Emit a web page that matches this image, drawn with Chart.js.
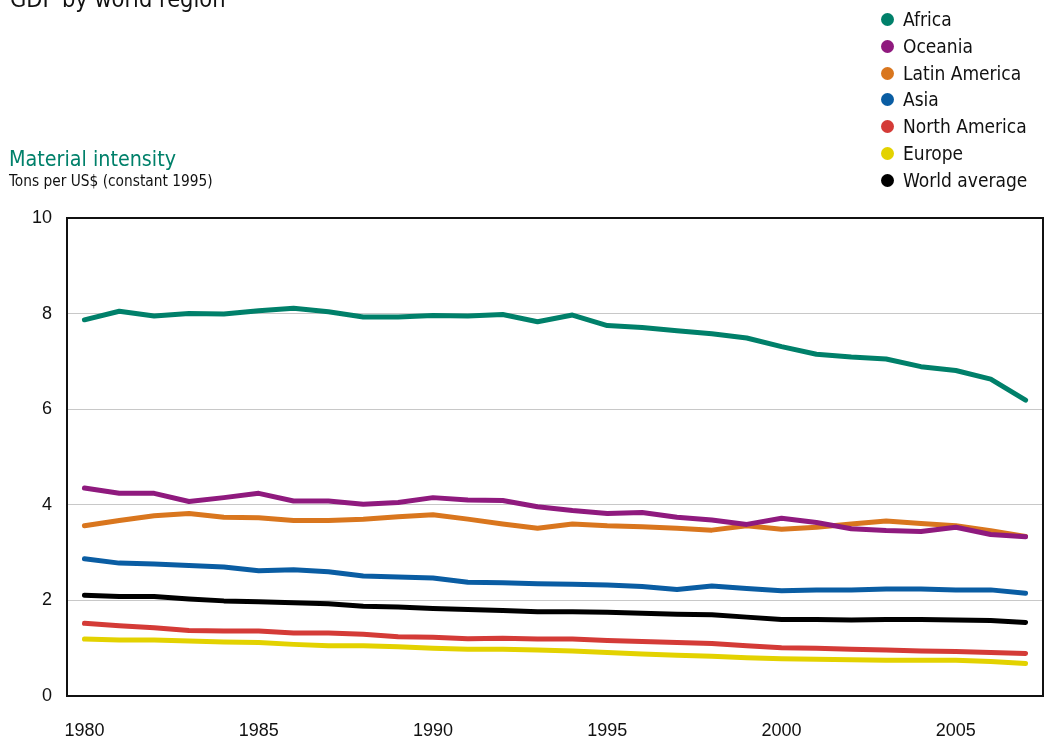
<!DOCTYPE html>
<html><head><meta charset="utf-8">
<script src="https://cdn.jsdelivr.net/npm/chart.js@4.4.1/dist/chart.umd.min.js"></script>
<style>
html,body{margin:0;padding:0;background:#fff;}
body{width:1045px;height:740px;position:relative;overflow:hidden;font-family:"DejaVu Sans Condensed","DejaVu Sans",sans-serif;font-stretch:condensed;color:#111;}
#c{position:absolute;left:0;top:0;}
.t{position:absolute;white-space:nowrap;line-height:1;}
#legend{position:absolute;left:881px;top:0;}
.row{position:absolute;left:0;height:20px;line-height:20px;font-size:19px;white-space:nowrap;display:flex;align-items:center;}
.dot{width:13px;height:13px;border-radius:50%;margin-right:9px;flex:none;}
</style></head><body>
<canvas id="c" width="1045" height="740"></canvas>
<div class="t" style="left:10px;top:-12.5px;font-size:23.4px;">GDP by world region</div>
<div class="t" style="left:9px;top:148px;font-size:21.3px;color:#00806a;">Material intensity</div>
<div class="t" style="left:9px;top:174px;font-size:15.3px;">Tons per US$ (constant 1995)</div>
<div id="legend"></div>
<script>
const years = [1980,1981,1982,1983,1984,1985,1986,1987,1988,1989,1990,1991,1992,1993,1994,1995,1996,1997,1998,1999,2000,2001,2002,2003,2004,2005,2006,2007];
const africa = [7.87,8.05,7.95,8.00,7.99,8.06,8.11,8.04,7.93,7.93,7.96,7.95,7.98,7.83,7.97,7.75,7.71,7.64,7.58,7.49,7.31,7.15,7.09,7.05,6.89,6.81,6.63,6.19];
const oceania = [4.35,4.24,4.24,4.07,4.15,4.24,4.08,4.08,4.01,4.05,4.15,4.10,4.09,3.96,3.88,3.82,3.84,3.74,3.68,3.59,3.72,3.63,3.50,3.46,3.44,3.53,3.38,3.33];
const latinAmerica = [3.56,3.67,3.77,3.82,3.74,3.73,3.67,3.67,3.70,3.75,3.79,3.70,3.60,3.51,3.60,3.56,3.54,3.51,3.47,3.56,3.49,3.53,3.60,3.66,3.61,3.56,3.46,3.34];
const asia = [2.87,2.78,2.76,2.73,2.70,2.62,2.64,2.60,2.51,2.49,2.47,2.38,2.37,2.35,2.34,2.32,2.29,2.23,2.30,2.25,2.20,2.22,2.22,2.24,2.24,2.22,2.22,2.15];
const northAmerica = [1.52,1.47,1.43,1.37,1.36,1.36,1.32,1.32,1.29,1.24,1.23,1.20,1.21,1.19,1.19,1.16,1.14,1.12,1.10,1.05,1.01,1.00,0.98,0.96,0.94,0.93,0.91,0.89];
const europe = [1.19,1.17,1.17,1.15,1.13,1.12,1.08,1.05,1.05,1.03,1.00,0.98,0.98,0.96,0.94,0.91,0.88,0.85,0.83,0.80,0.78,0.77,0.76,0.75,0.75,0.75,0.72,0.68];
const worldAverage = [2.11,2.08,2.08,2.03,1.99,1.97,1.95,1.93,1.88,1.86,1.83,1.81,1.79,1.76,1.76,1.75,1.73,1.71,1.70,1.65,1.60,1.60,1.59,1.60,1.60,1.59,1.58,1.54];
const seriesNames = ["Africa","Oceania","Latin America","Asia","North America","Europe","World average"];
const seriesColors = ["#00806a","#8f1a7e","#d9761e","#0a5da3","#d43b37","#e3d200","#000000"];
const seriesValues = [africa,oceania,latinAmerica,asia,northAmerica,europe,worldAverage];
const yTicks = [0,2,4,6,8,10];

const leg = document.getElementById('legend');
const rowY = [19,46,73,99,126,153,180];
seriesNames.forEach((n,i)=>{
  const r = document.createElement('div'); r.className='row'; r.style.top=(rowY[i]-10)+'px';
  const d = document.createElement('span'); d.className='dot'; d.style.background=seriesColors[i];
  const s = document.createElement('span'); s.textContent=n;
  r.appendChild(d); r.appendChild(s); leg.appendChild(r);
});

const frame = {
  id:'frame',
  afterDraw(chart){
    const {ctx, chartArea:a} = chart;
    ctx.save(); ctx.strokeStyle='#111'; ctx.lineWidth=2;
    ctx.strokeRect(a.left, a.top, a.right-a.left, a.bottom-a.top);
    ctx.restore();
  }
};
const tickFont = {family:'"Liberation Sans", Arial, sans-serif', size:18};

new Chart(document.getElementById('c'), {
  type:'line',
  data:{
    labels: years.map(String),
    datasets: seriesNames.map((n,i)=>({
      label:n, data:seriesValues[i], borderColor:seriesColors[i], backgroundColor:seriesColors[i],
      borderWidth:5, pointRadius:0, borderCapStyle:'round', borderJoinStyle:'round', tension:0, fill:false
    }))
  },
  options:{
    responsive:false, animation:false, devicePixelRatio:1,
    layout:{padding:{top:218,right:2,left:0,bottom:0}},
    plugins:{legend:{display:false}, tooltip:{enabled:false}},
    scales:{
      x:{type:'category', offset:true, grid:{display:false, drawTicks:false}, border:{display:false},
         afterFit(s){ s.height=44; s.paddingLeft=0; s.paddingRight=0; },
         ticks:{autoSkip:false, maxRotation:0, padding:24, color:'#111', font:tickFont,
           callback(v){ const l=this.getLabelForValue(v); return (+l)%5===0 ? l : ''; }}},
      y:{min:0, max:10, grid:{color:'#c8c8c8', lineWidth:1, drawTicks:false}, border:{display:false},
         afterFit(s){ s.width=67; s.paddingTop=0; s.paddingBottom=0; },
         afterBuildTicks(s){ s.ticks = yTicks.map(v=>({value:v})); },
         ticks:{padding:15, color:'#111', font:tickFont}}
    }
  },
  plugins:[frame]
});
</script>
</body></html>
